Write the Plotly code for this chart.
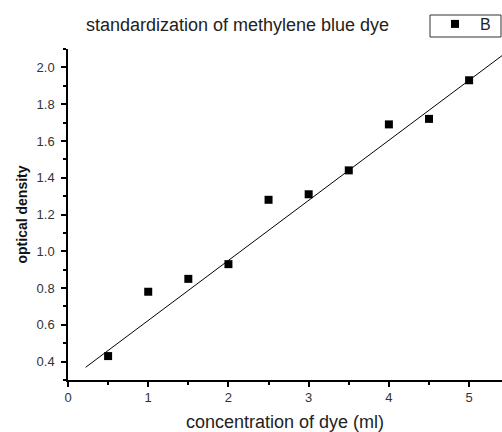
import plotly.graph_objects as go

conc = [0.5, 1.0, 1.5, 2.0, 2.5, 3.0, 3.5, 4.0, 4.5, 5.0]
od = [0.43, 0.78, 0.85, 0.93, 1.28, 1.31, 1.44, 1.69, 1.72, 1.93]

fit_x = [0.22, 5.6]
fit_y = [0.369, 2.126]

title_text = "standardization of methylene blue dye"
x_title = "concentration of dye (ml)"
y_title = "optical density"
series_name = "B"

FONT = "Liberation Sans, Arial, sans-serif"
W, H = 502, 432
L, R, T, B = 68, 0, 49, 52
PW, PH = W - L - R, H - T - B


def px_x(p):
    return (p - L) / PW


def px_y(p):
    return (H - B - p) / PH


fig = go.Figure()
fig.add_trace(go.Scatter(x=fit_x, y=fit_y, mode="lines",
                         line=dict(color="black", width=1),
                         showlegend=False, hoverinfo="skip"))
fig.add_trace(go.Scatter(x=conc, y=od, mode="markers", name=series_name,
                         marker=dict(symbol="square", size=8, color="black")))

fig.update_layout(
    width=W, height=H,
    margin=dict(l=L, r=R, t=T, b=B),
    paper_bgcolor="white", plot_bgcolor="white",
    font=dict(family=FONT, color="#222"),
    title=dict(text=title_text, x=237.5 / W, xanchor="center",
               y=1 - 25 / H, yanchor="middle",
               font=dict(size=18, color="#222", family=FONT)),
    legend=dict(x=px_x(430), xanchor="left", y=px_y(7), yanchor="top",
                borderwidth=0, bgcolor="rgba(0,0,0,0)",
                font=dict(size=16, color="#222"), itemwidth=40,
                tracegroupgap=0),
    showlegend=True,
    shapes=[dict(type="rect", xref="paper", yref="paper",
                 x0=px_x(430), x1=px_x(501), y0=px_y(37), y1=px_y(15),
                 line=dict(color="#333", width=1), fillcolor="rgba(0,0,0,0)", layer="above")],
)

fig.update_xaxes(
    range=[0, 5.41], tick0=0, dtick=1, ticks="outside", ticklen=5, tickwidth=1.5,
    tickcolor="black", showline=True, linecolor="black", linewidth=1.5,
    showgrid=False, zeroline=False, tickfont=dict(size=13, color="#333"),
    minor=dict(dtick=0.5, ticks="outside", ticklen=3, tickwidth=1.5, tickcolor="black", showgrid=False),
    title=dict(text=x_title, font=dict(size=18, color="#222"), standoff=13),
)
fig.update_yaxes(
    range=[0.3, 2.1], tick0=0.4, dtick=0.2, tickformat=".1f", ticks="outside",
    ticklen=5, tickwidth=1.5, tickcolor="black", showline=True, linecolor="black",
    linewidth=1.5, showgrid=False, zeroline=False, tickfont=dict(size=13, color="#333"),
    ticklabelstandoff=4,
    minor=dict(dtick=0.1, ticks="outside", ticklen=3, tickwidth=1.5, tickcolor="black", showgrid=False),
    title=dict(text="<b>" + y_title + "</b>",
               font=dict(size=14, color="#111", family="Liberation Sans Narrow, Liberation Sans, Arial"),
               standoff=6),
)

fig.write_html("out.html")
